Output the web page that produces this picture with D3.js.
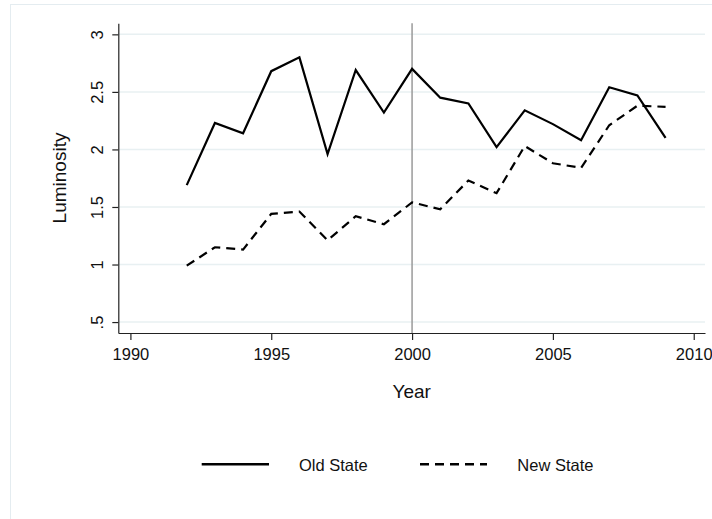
<!DOCTYPE html>
<html>
<head>
<meta charset="utf-8">
<script src="https://cdn.jsdelivr.net/npm/d3@7"></script>
<style>
  body { margin: 0; background: #fff; }
  text { font-family: "Liberation Sans", Arial, sans-serif; fill: #111; }
</style>
</head>
<body>
<div id="chart"></div>
<script>
// Data
const years = [1992, 1993, 1994, 1995, 1996, 1997, 1998, 1999, 2000,
  2001, 2002, 2003, 2004, 2005, 2006, 2007, 2008, 2009]
const oldState = [1.69, 2.23, 2.14, 2.68, 2.80, 1.96, 2.69, 2.32, 2.70,
  2.45, 2.40, 2.02, 2.34, 2.22, 2.08, 2.54, 2.47, 2.10]
const newState = [0.99, 1.15, 1.13, 1.44, 1.46, 1.21, 1.42, 1.35, 1.54,
  1.48, 1.73, 1.62, 2.03, 1.88, 1.84, 2.21, 2.38, 2.37]
const xTicks = [1990, 1995, 2000, 2005, 2010]
const yTicks = [0.5, 1, 1.5, 2, 2.5, 3]
const yTickLabels = ['.5', '1', '1.5', '2', '2.5', '3']
const markYear = 2000
const seriesNames = ['Old State', 'New State']

// Dimensions
const dimensions = {
  width: 712,
  height: 519,
  left: 118.3,
  right: 705,
  top: 23.3,
  bottom: 333
}

const svg = d3.select('#chart')
  .append('svg')
  .attr('width', dimensions.width)
  .attr('height', dimensions.height)

// faint outer region edge
svg.append('rect')
  .attr('x', 10.5)
  .attr('y', 4.5)
  .attr('width', 760)
  .attr('height', 560)
  .attr('fill', 'none')
  .attr('stroke', '#e4ecf0')

// Scales
const xScale = d3.scaleLinear()
  .domain([1989.57, 2010.4])
  .range([dimensions.left, dimensions.right])

const yScale = d3.scaleLinear()
  .domain([0.405, 3.096])
  .range([dimensions.bottom, dimensions.top])

// Gridlines
svg.append('g')
  .selectAll('line')
  .data(yTicks)
  .join('line')
  .attr('x1', dimensions.left)
  .attr('x2', dimensions.right)
  .attr('y1', d => yScale(d))
  .attr('y2', d => yScale(d))
  .attr('stroke', '#e8f0f2')
  .attr('stroke-width', 1.5)

// Reference line at 2000
svg.append('line')
  .attr('x1', xScale(markYear))
  .attr('x2', xScale(markYear))
  .attr('y1', dimensions.top)
  .attr('y2', dimensions.bottom)
  .attr('stroke', '#9a9a9a')
  .attr('stroke-width', 1.5)

// Lines
const line = values => d3.line()
  .x((d, i) => xScale(years[i]))
  .y(d => yScale(d))(values)

svg.append('path')
  .attr('d', line(oldState))
  .attr('fill', 'none')
  .attr('stroke', '#000')
  .attr('stroke-width', 2.2)
  .attr('stroke-linejoin', 'miter')

svg.append('path')
  .attr('d', line(newState))
  .attr('fill', 'none')
  .attr('stroke', '#000')
  .attr('stroke-width', 2.2)
  .attr('stroke-dasharray', '9,6')

// Axes
const xAxis = d3.axisBottom(xScale)
  .tickValues(xTicks)
  .tickFormat(d3.format('d'))
  .tickSize(7)
  .tickSizeOuter(0)

const xAxisGroup = svg.append('g')
  .attr('transform', `translate(0, ${dimensions.bottom})`)
  .call(xAxis)

xAxisGroup.selectAll('text')
  .attr('y', 26.5)
  .attr('dy', 0)
  .style('font-size', '16.5px')

const yAxis = d3.axisLeft(yScale)
  .tickValues(yTicks)
  .tickFormat((d, i) => yTickLabels[i])
  .tickSize(6)
  .tickSizeOuter(0)

const yAxisGroup = svg.append('g')
  .attr('transform', `translate(${dimensions.left}, 0)`)
  .call(yAxis)

yAxisGroup.selectAll('text')
  .attr('x', null)
  .attr('dy', 0)
  .attr('text-anchor', 'middle')
  .attr('transform', 'translate(-15, 0) rotate(-90)')
  .style('font-size', '16.5px')

svg.selectAll('.domain, .tick line')
  .attr('stroke', '#222')
  .attr('stroke-width', 1.2)

// Axis titles
svg.append('text')
  .attr('x', (dimensions.left + dimensions.right) / 2)
  .attr('y', 398)
  .attr('text-anchor', 'middle')
  .style('font-size', '19px')
  .text('Year')

svg.append('text')
  .attr('transform', 'translate(65.5, 178) rotate(-90)')
  .attr('text-anchor', 'middle')
  .style('font-size', '19px')
  .text('Luminosity')

// Legend
const legend = svg.append('g')
const legendItems = [
  { x1: 201.7, x2: 269, tx: 299, dash: null },
  { x1: 420, x2: 487, tx: 517.3, dash: '9,6' }
]

legend.selectAll('line')
  .data(legendItems)
  .join('line')
  .attr('x1', d => d.x1)
  .attr('x2', d => d.x2)
  .attr('y1', 464.3)
  .attr('y2', 464.3)
  .attr('stroke', '#000')
  .attr('stroke-width', 2.6)
  .attr('stroke-dasharray', d => d.dash)

legend.selectAll('text')
  .data(legendItems)
  .join('text')
  .attr('x', d => d.tx)
  .attr('y', 470.5)
  .style('font-size', '16.5px')
  .text((d, i) => seriesNames[i])
</script>
</body>
</html>
